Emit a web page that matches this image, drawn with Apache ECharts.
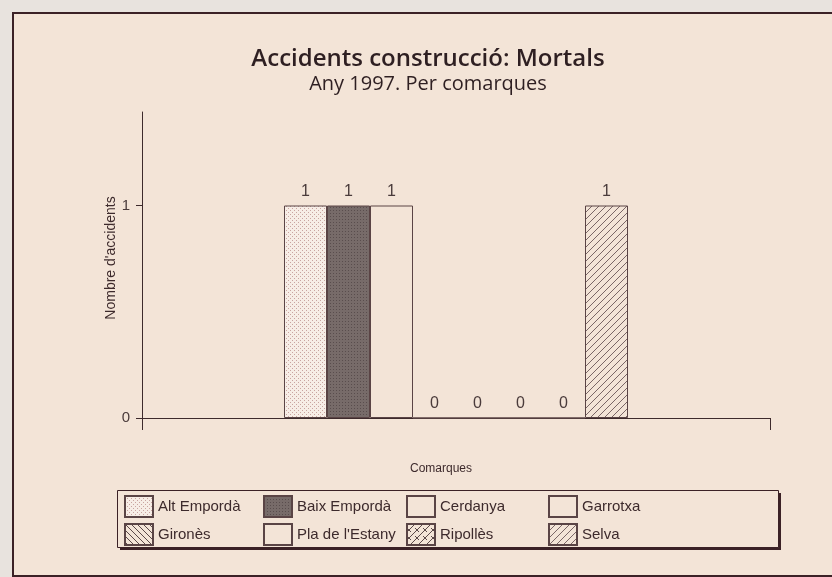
<!DOCTYPE html>
<html>
<head>
<meta charset="utf-8">
<script src="https://cdn.jsdelivr.net/npm/echarts@6/dist/echarts.min.js"></script>
<style>
  html, body { margin: 0; padding: 0; background: #e8e3de; }
  #chart { width: 832px; height: 577px; }
</style>
</head>
<body>
<div id="chart"></div>
<script>
  // data
  const comarques = ['Alt Empordà', 'Baix Empordà', 'Cerdanya', 'Garrotxa',
    'Gironès', "Pla de l'Estany", 'Ripollès', 'Selva'];
  const mortals = [1, 1, 1, 0, 0, 0, 0, 1];
  const yTicks = [0, 1];

  const BG = '#f3e4d7';
  const INK = '#3d2a2c';
  const EDGE = '#5a4445';
  const FRAME = '#3b2126';

  // small canvas fills for the print-style patterns
  const makePattern = (size, draw) => {
    const c = document.createElement('canvas');
    c.width = size;
    c.height = size;
    const ctx = c.getContext('2d');
    draw(ctx, size);
    return { image: c, repeat: 'repeat' };
  };

  const dotsLight = makePattern(4, (ctx, s) => {
    ctx.fillStyle = '#f7ede6';
    ctx.fillRect(0, 0, s, s);
    ctx.fillStyle = '#c9a4a0';
    ctx.fillRect(0, 0, 1, 1);
    ctx.fillRect(2, 2, 1, 1);
  });
  const dotsDark = makePattern(3, (ctx, s) => {
    ctx.fillStyle = '#776b69';
    ctx.fillRect(0, 0, s, s);
    ctx.fillStyle = '#594d4d';
    ctx.fillRect(0, 0, 1, 1);
  });
  const plain = BG;
  const hatch = (dir, step, col) => makePattern(step, (ctx, s) => {
    ctx.fillStyle = BG;
    ctx.fillRect(0, 0, s, s);
    ctx.strokeStyle = col;
    ctx.lineWidth = 1;
    ctx.beginPath();
    for (let k = -1; k <= 1; k++) {
      if (dir > 0) {
        ctx.moveTo(k * s, s);
        ctx.lineTo(k * s + s, 0);
      } else {
        ctx.moveTo(k * s, 0);
        ctx.lineTo(k * s + s, s);
      }
    }
    ctx.stroke();
  });
  const crossWave = makePattern(8, (ctx, s) => {
    ctx.fillStyle = BG;
    ctx.fillRect(0, 0, s, s);
    ctx.strokeStyle = '#5a4848';
    ctx.lineWidth = 1;
    ctx.beginPath();
    ctx.moveTo(0, s); ctx.lineTo(s, 0);
    ctx.moveTo(0, s / 2); ctx.lineTo(s / 2, s);
    ctx.stroke();
  });

  const fills = [dotsLight, dotsDark, plain, plain,
    hatch(-1, 6, '#5a4848'), plain, crossWave, hatch(1, 7, '#7a6666')];

  const chart = echarts.init(document.getElementById('chart'));

  const series = comarques.map((name, i) => ({
    name,
    type: 'bar',
    data: [mortals[i]],
    barWidth: 43,
    barGap: '0%',
    itemStyle: {
      color: fills[i],
      borderColor: EDGE,
      borderWidth: 1
    },
    label: {
      show: true,
      position: 'top',
      distance: 6,
      color: '#4a3b3b',
      fontFamily: 'Liberation Sans',
      fontSize: 16
    }
  }));

  // legend laid out as 4 columns of 2 rows, inside one framed box
  const colX = [124, 263, 406, 548];
  const legends = colX.map((x, c) => ({
    data: [comarques[c], comarques[c + 4]],
    orient: 'vertical',
    left: x,
    top: 495,
    padding: 0,
    z: 5,
    selectedMode: false,
    icon: 'rect',
    itemWidth: 28,
    itemHeight: 21,
    itemGap: 5,
    textStyle: {
      fontFamily: 'Liberation Sans',
      fontSize: 15,
      color: INK
    }
  }));

  chart.setOption({
    backgroundColor: '#e8e3de',
    animation: false,
    graphic: [
      {
        type: 'rect',
        z: -10,
        shape: { x: 13, y: 13, width: 830, height: 563 },
        style: { fill: BG, stroke: FRAME, lineWidth: 2 }
      },
      {
        type: 'rect',
        z: 1,
        shape: { x: 120, y: 493, width: 661, height: 57 },
        style: { fill: FRAME }
      },
      {
        type: 'rect',
        z: 2,
        shape: { x: 117.5, y: 490.5, width: 661, height: 57 },
        style: { fill: BG, stroke: FRAME, lineWidth: 1 }
      }
    ],
    title: {
      text: 'Accidents construcció: Mortals',
      subtext: 'Any 1997. Per comarques',
      left: 423,
      top: 42,
      textAlign: 'center',
      itemGap: 3,
      textStyle: {
        fontFamily: 'Open Sans',
        fontWeight: 600,
        fontSize: 24,
        color: '#2e1f22'
      },
      subtextStyle: {
        fontFamily: 'Open Sans',
        fontSize: 20,
        color: '#2e1f22'
      }
    },
    grid: {
      left: 142,
      right: 62,
      top: 112,
      bottom: 159,
      containLabel: false
    },
    xAxis: {
      type: 'category',
      data: [''],
      name: 'Comarques',
      nameLocation: 'middle',
      nameGap: 45,
      nameTextStyle: {
        fontFamily: 'Liberation Sans',
        fontSize: 12,
        color: INK,
        padding: [0, 30, 0, 0]
      },
      axisLine: { lineStyle: { color: INK, width: 1 } },
      axisTick: { show: true, length: 12, inside: false, lineStyle: { color: INK } },
      axisLabel: { show: false }
    },
    yAxis: {
      type: 'value',
      min: 0,
      max: 1.44,
      interval: 1,
      name: "Nombre d'accidents",
      nameLocation: 'middle',
      nameGap: 24,
      nameMoveOverlap: false,
      nameTextStyle: {
        fontFamily: 'Liberation Sans',
        fontSize: 14,
        color: INK,
        padding: [0, 0, 0, 14]
      },
      splitLine: { show: false },
      axisLine: { show: true, lineStyle: { color: INK, width: 1 } },
      axisTick: { show: true, length: 6, customValues: yTicks, lineStyle: { color: INK } },
      axisLabel: {
        customValues: yTicks,
        margin: 12,
        fontFamily: 'Liberation Sans',
        fontSize: 15,
        color: '#4a3b3b'
      }
    },
    legend: legends,
    series
  });
</script>
</body>
</html>
